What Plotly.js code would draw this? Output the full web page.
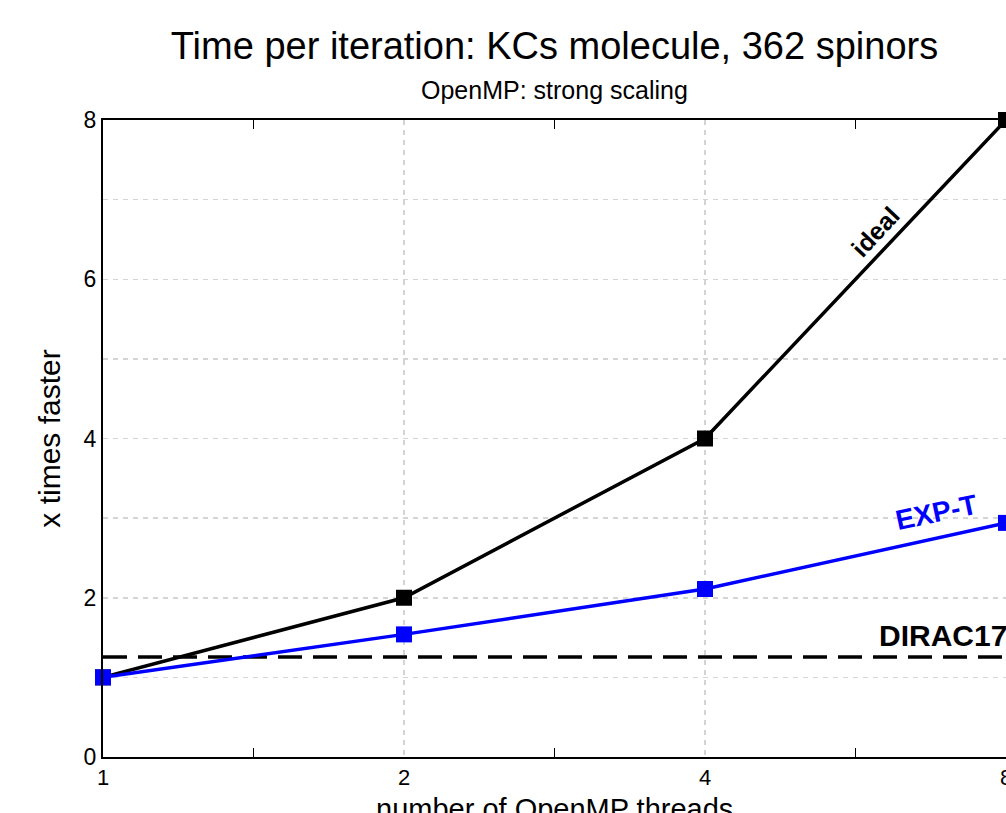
<!DOCTYPE html>
<html>
<head>
<meta charset="utf-8">
<script src="https://cdn.plot.ly/plotly-3.0.1.min.js"></script>
<style>html,body{margin:0;padding:0;background:#fff;}#chart{width:1006px;height:813px;}</style>
</head>
<body>
<div id="chart"></div>
<script>
const threads = [1, 2, 4, 8];
const idealSpeedup = [1, 2, 4, 8];
const exptSpeedup = [1, 1.54, 2.11, 2.94];
const diracThreads = [1, 8];
const diracSpeedup = [1.256, 1.256];
const xTickVals = [1, 2, 4, 8];
const xTickText = ['1', '2', '4', '8'];
const xMinorTicks = [Math.SQRT2, 2 * Math.SQRT2, 4 * Math.SQRT2];
const yTickVals = [0, 2, 4, 6, 8];

const font = 'Liberation Sans, Arial, Helvetica, sans-serif';
const gridColor = '#d4d4d4';

const traces = [
  {
    x: threads, y: idealSpeedup, type: 'scatter', mode: 'lines+markers', name: 'ideal',
    line: {color: '#000000', width: 3.5},
    marker: {symbol: 'square', size: 16, color: '#000000'},
    cliponaxis: false
  },
  {
    x: diracThreads, y: diracSpeedup, type: 'scatter', mode: 'lines', name: 'DIRAC17',
    line: {color: '#000000', width: 3.5, dash: '24px,11px'}
  },
  {
    x: threads, y: exptSpeedup, type: 'scatter', mode: 'lines+markers', name: 'EXP-T',
    line: {color: '#0000ff', width: 3.5},
    marker: {symbol: 'square', size: 16, color: '#0000ff'},
    cliponaxis: false
  }
];

const layout = {
  width: 1006, height: 813,
  paper_bgcolor: '#ffffff', plot_bgcolor: '#ffffff',
  margin: {l: 103, r: 0, t: 120, b: 56, autoexpand: false},
  showlegend: false,
  font: {family: font, color: '#000000'},
  title: {
    text: 'Time per iteration: KCs molecule, 362 spinors',
    font: {family: font, size: 38, color: '#000000'},
    x: 0.5, xref: 'paper', xanchor: 'center',
    y: 0.944, yref: 'container', yanchor: 'middle'
  },
  xaxis: {
    type: 'log', range: [0, Math.log10(8)],
    tickmode: 'array', tickvals: xTickVals, ticktext: xTickText,
    ticks: '', showline: true, linecolor: '#000000', linewidth: 2, mirror: 'ticks',
    showgrid: true, gridcolor: gridColor, griddash: '5px,5px', gridwidth: 1.5,
    zeroline: false, automargin: false, ticklabeloverflow: 'allow',
    tickfont: {family: font, size: 22, color: '#000000'},
    minor: {tickmode: 'array', tickvals: xMinorTicks, ticks: 'inside', ticklen: 9, tickwidth: 1.5, tickcolor: '#000000', showgrid: false}
  },
  yaxis: {
    range: [0, 8], tickmode: 'array', tickvals: yTickVals,
    ticks: '', showline: true, linecolor: '#000000', linewidth: 2, mirror: true,
    showgrid: true, gridcolor: gridColor, griddash: '5px,5px', gridwidth: 1.5,
    zeroline: false, automargin: false,
    tickfont: {family: font, size: 23, color: '#000000'},
    minor: {dtick: 1, showgrid: true, gridcolor: gridColor, griddash: '5px,5px', gridwidth: 1.5, ticks: ''},
    title: {text: 'x times faster', font: {family: font, size: 30, color: '#000000'}, standoff: 14}
  },
  annotations: [
    {text: 'OpenMP: strong scaling', xref: 'paper', yref: 'paper', x: 0.5, y: 1.047, xanchor: 'center', yanchor: 'middle',
     showarrow: false, font: {family: font, size: 25, color: '#000000'}},
    {text: 'number of OpenMP threads', xref: 'paper', yref: 'paper', x: 0.5, y: -0.082, xanchor: 'center', yanchor: 'middle',
     showarrow: false, font: {family: font, size: 29, color: '#000000'}},
    {text: '<b>ideal</b>', xref: 'paper', yref: 'paper', x: 0.855, y: 0.824, xanchor: 'center', yanchor: 'middle', showarrow: false,
     textangle: -47, font: {family: font, size: 25, color: '#000000'}},
    {text: '<b>EXP-T</b>', xref: 'paper', yref: 'paper', x: 0.9225, y: 0.3846, xanchor: 'center', yanchor: 'middle', showarrow: false,
     textangle: -12, font: {family: font, size: 28, color: '#0000ff'}},
    {text: '<b>DIRAC17</b>', xref: 'paper', yref: 'paper', x: 0.857, y: 0.19, xanchor: 'left', yanchor: 'middle', showarrow: false,
     font: {family: font, size: 30, color: '#000000'}}
  ]
};

Plotly.newPlot('chart', traces, layout, {displayModeBar: false, staticPlot: true});
</script>
</body>
</html>
